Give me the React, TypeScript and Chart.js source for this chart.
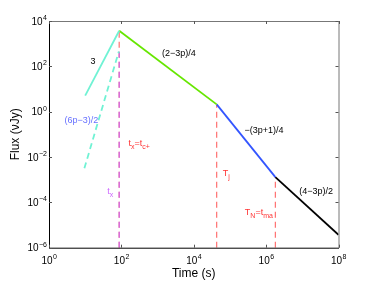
import React, { useEffect, useRef } from "react";
import { Chart, registerables } from "chart.js";

Chart.register(...registerables);

// ---- data (time in s, flux in μJy) ----
const riseTimes = [10, 87];
const riseFlux = [5.1, 3700];
const steepTimes = [9.5, 85];
const steepFlux = [0.0032, 450];
const plateauTimes = [87, 43000];
const plateauFlux = [3700, 2.1];
const jetTimes = [43000, 1.8e6];
const jetFlux = [2.1, 0.0013];
const lateTimes = [1.8e6, 1e8];
const lateFlux = [0.0013, 3.7e-6];

const markTimes = [87, 87, 43000, 1.8e6];
const markTops = [3700, 450, 2.1, 0.0013];
const markColors = ["#ff7070", "#cc66ee", "#ff7070", "#ff7070"];

const xTickValues = [1, 1e2, 1e4, 1e6, 1e8];
const yTickValues = [1e-6, 1e-4, 1e-2, 1, 1e2, 1e4];

type Part = [string, "n" | "sub"];
const labelTexts: Part[][] = [
  [["3", "n"]],
  [["(6p\u22123)/2", "n"]],
  [["(2\u22123p)/4", "n"]],
  [["\u2212(3p+1)/4", "n"]],
  [["(4\u22123p)/2", "n"]],
  [["t", "n"], ["x", "sub"], ["=t", "n"], ["c+", "sub"]],
  [["t", "n"], ["x", "sub"]],
  [["T", "n"], ["j", "sub"]],
  [["T", "n"], ["N", "sub"], ["=t", "n"], ["ma", "sub"]],
];
const labelTimes = [16.5, 7.9, 3890, 8.7e5, 2.4e7, 310, 49, 79000, 6.3e5];
const labelFlux = [174, 0.44, 400, 0.158, 3.4e-4, 0.044, 3.4e-4, 0.0021, 3.9e-5];
const labelColors = ["#000", "#6670ff", "#000", "#000", "#000", "#ff3333", "#cc66ff", "#ff3333", "#ff3333"];

const FONT = "'Liberation Sans', Arial, Helvetica, sans-serif";

const pts = (xs: number[], ys: number[]) => xs.map((x, i) => ({ x, y: ys[i] }));

const overlay = {
  id: "overlay",
  afterDatasetsDraw(chart: any) {
    const ctx = chart.ctx as CanvasRenderingContext2D;
    const { left, right, top, bottom } = chart.chartArea;
    const xs = chart.scales.x;
    const ys = chart.scales.y;
    ctx.save();
    // frame
    ctx.lineWidth = 1;
    ctx.strokeStyle = "#777";
    ctx.beginPath();
    ctx.moveTo(left, top + 0.5);
    ctx.lineTo(right + 0.5, top + 0.5);
    ctx.lineTo(right + 0.5, bottom);
    ctx.stroke();
    ctx.strokeStyle = "#000";
    ctx.beginPath();
    ctx.moveTo(left + 0.5, top);
    ctx.lineTo(left + 0.5, bottom + 0.5);
    ctx.lineTo(right + 0.5, bottom + 0.5);
    ctx.stroke();
    // inward ticks
    ctx.strokeStyle = "#555";
    xs.ticks.forEach((t: any) => {
      const px = Math.round(xs.getPixelForValue(t.value)) + 0.5;
      ctx.beginPath();
      ctx.moveTo(px, bottom);
      ctx.lineTo(px, bottom - 3);
      ctx.moveTo(px, top);
      ctx.lineTo(px, top + 3);
      ctx.stroke();
    });
    ys.ticks.forEach((t: any) => {
      const py = Math.round(ys.getPixelForValue(t.value)) + 0.5;
      ctx.beginPath();
      ctx.moveTo(left, py);
      ctx.lineTo(left + 3, py);
      ctx.moveTo(right, py);
      ctx.lineTo(right - 3, py);
      ctx.stroke();
    });
    // tick labels
    ctx.fillStyle = "#000";
    ctx.textBaseline = "alphabetic";
    ctx.textAlign = "left";
    const expOf = (v: number) => String(Math.round(Math.log10(v))).replace("-", "\u2212");
    xs.ticks.forEach((t: any) => {
      const px = xs.getPixelForValue(t.value);
      const e = expOf(t.value);
      ctx.font = `10px ${FONT}`;
      const w1 = ctx.measureText("10").width;
      ctx.font = `7px ${FONT}`;
      const w2 = ctx.measureText(e).width;
      const x0 = px - (w1 + w2) / 2;
      ctx.font = `10px ${FONT}`;
      ctx.fillText("10", x0, bottom + 16);
      ctx.font = `7px ${FONT}`;
      ctx.fillText(e, x0 + w1 + 0.5, bottom + 11.5);
    });
    ys.ticks.forEach((t: any) => {
      const py = ys.getPixelForValue(t.value);
      const e = expOf(t.value);
      ctx.font = `10px ${FONT}`;
      const w1 = ctx.measureText("10").width;
      ctx.font = `7px ${FONT}`;
      const w2 = ctx.measureText(e).width;
      const x0 = left - 2 - w2 - w1 - 0.5;
      ctx.font = `10px ${FONT}`;
      ctx.fillText("10", x0, py + 3.6);
      ctx.font = `7px ${FONT}`;
      ctx.fillText(e, x0 + w1 + 0.5, py - 1);
    });
    // axis titles
    ctx.font = `12px ${FONT}`;
    ctx.textAlign = "center";
    ctx.fillText("Time (s)", (left + right) / 2, 277);
    ctx.save();
    ctx.translate(19.3, (top + bottom) / 2);
    ctx.rotate(-Math.PI / 2);
    ctx.fillText("Flux (\u03bdJy)", 0, 0);
    ctx.restore();
    // annotations
    ctx.textAlign = "left";
    labelTexts.forEach((parts, i) => {
      const cx = xs.getPixelForValue(labelTimes[i]);
      const cy = ys.getPixelForValue(labelFlux[i]);
      let total = 0;
      parts.forEach(([s, k]) => {
        ctx.font = `${k === "sub" ? 7 : 9}px ${FONT}`;
        total += ctx.measureText(s).width;
      });
      let x = cx - total / 2;
      ctx.fillStyle = labelColors[i];
      parts.forEach(([s, k]) => {
        ctx.font = `${k === "sub" ? 7 : 9}px ${FONT}`;
        ctx.fillText(s, x, cy + 3.2 + (k === "sub" ? 3 : 0));
        x += ctx.measureText(s).width;
      });
    });
    ctx.restore();
  },
};

export default function App() {
  const ref = useRef<HTMLCanvasElement | null>(null);
  useEffect(() => {
    if (!ref.current) return;
    const base = { pointRadius: 0, fill: false, tension: 0 };
    const curves = [
      { data: pts(riseTimes, riseFlux), borderColor: "#70f2d4", borderWidth: 1.8 },
      { data: pts(steepTimes, steepFlux), borderColor: "#70f2d4", borderWidth: 1.8, borderDash: [6, 4] },
      { data: pts(plateauTimes, plateauFlux), borderColor: "#66e600", borderWidth: 1.8 },
      { data: pts(jetTimes, jetFlux), borderColor: "#3355ff", borderWidth: 1.8 },
      { data: pts(lateTimes, lateFlux), borderColor: "#000000", borderWidth: 1.8 },
    ];
    const marks = markTimes.map((t, i) => ({
      data: [
        { x: t, y: 1e-6 },
        { x: t, y: markTops[i] },
      ],
      borderColor: markColors[i],
      borderWidth: 1.2,
      borderDash: [6, 4],
    }));
    // purple drawn above the red one at the same time
    const ordered = [...curves, marks[1], marks[0], marks[2], marks[3]].map((d) => ({ ...base, ...d }));
    const chart = new Chart(ref.current, {
      type: "line",
      data: { datasets: ordered as any },
      options: {
        animation: false,
        responsive: false,
        layout: { padding: { top: 21, right: 35.5, left: 0, bottom: 0 } },
        plugins: { legend: { display: false }, tooltip: { enabled: false } },
        scales: {
          x: {
            type: "logarithmic",
            min: 1,
            max: 1e8,
            grid: { display: false },
            border: { display: false },
            ticks: { display: false },
            afterBuildTicks: (s: any) => {
              s.ticks = xTickValues.map((value) => ({ value }));
            },
            afterFit: (s: any) => {
              s.height = 33.3;
            },
          },
          y: {
            type: "logarithmic",
            min: 1e-6,
            max: 1e4,
            grid: { display: false },
            border: { display: false },
            ticks: { display: false },
            afterBuildTicks: (s: any) => {
              s.ticks = yTickValues.map((value) => ({ value }));
            },
            afterFit: (s: any) => {
              s.width = 49;
            },
          },
        },
      } as any,
      plugins: [overlay],
    });
    return () => chart.destroy();
  }, []);
  return (
    <div style={{ position: "fixed", left: 0, top: 0, width: 374, height: 281, background: "#fff" }}>
      <canvas ref={ref} width={374} height={281} style={{ display: "block" }} />
    </div>
  );
}
